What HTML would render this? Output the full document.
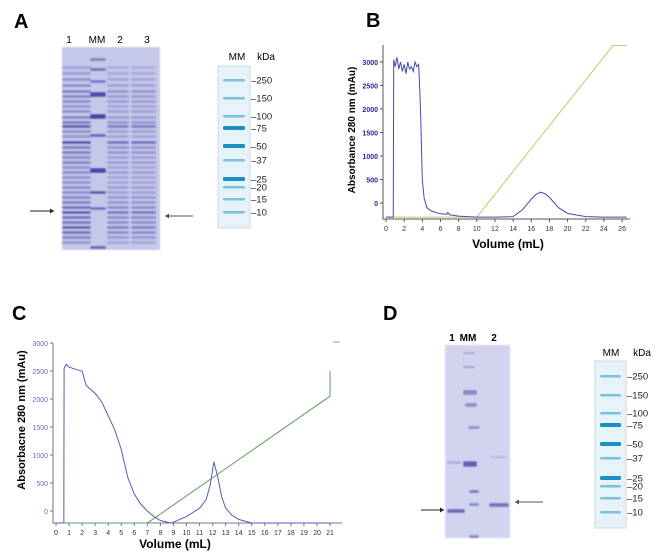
<!DOCTYPE html>
<html><head><meta charset="utf-8"><style>
body{margin:0;background:#fff;width:666px;height:557px;overflow:hidden;font-family:"Liberation Sans",sans-serif}
svg{position:absolute;left:0;top:0}
</style></head><body>
<svg id="fig" width="666" height="557" viewBox="0 0 666 557">
<defs><filter id="blur" x="-5%" y="-5%" width="110%" height="110%"><feGaussianBlur stdDeviation="0.7"/></filter></defs>
<g font-family="Liberation Sans, sans-serif">
<text x="14" y="28" font-size="20" font-weight="bold">A</text>
<text x="366" y="27" font-size="20" font-weight="bold">B</text>
<text x="12" y="320" font-size="20" font-weight="bold">C</text>
<text x="383" y="320" font-size="20" font-weight="bold">D</text>
</g>
<g id="gelA"></g>
<g id="gelD"></g>
<g id="mkA"></g>
<g id="mkD"></g>
<g id="chartB"></g>
<g id="chartC"></g>
</svg>
<script>
// ---- Chart B data ----
const bVol=[0,0.8,0.85,1.0,1.2,1.4,1.6,1.8,2.0,2.2,2.4,2.6,2.8,3.0,3.2,3.4,3.6,3.8,4.0,4.2,4.5,5,6,6.7,6.8,7,8,10,12,14,15,16,16.5,17,17.5,18,19,20,22,24,26.5];
const bAbs=[-300,-300,3050,2900,3100,2850,3000,2800,2950,2750,3000,2850,2900,2800,3000,2900,2950,2000,500,100,-100,-170,-230,-240,-200,-250,-280,-300,-300,-290,-150,80,180,230,200,120,-100,-220,-290,-300,-300];
const bGradVol=[0,10,25,26.5];
const bGradAbs=[-300,-300,3350,3350];
const bXTicks=[0,2,4,6,8,10,12,14,16,18,20,22,24,26];
const bYTicks=[0,500,1000,1500,2000,2500,3000];
// ---- Chart C data ----
const cVol=[0,0.6,0.62,0.8,1.0,1.5,2.0,2.3,2.5,3.0,3.5,4.0,4.5,5.0,5.3,5.5,6.0,6.5,7,7.5,8,8.8,9,10,11,11.5,11.8,12.1,12.4,12.7,13,13.5,14,15,21];
const cAbs=[-215,-215,2550,2620,2570,2530,2500,2250,2200,2100,1950,1700,1450,1100,800,600,300,120,0,-100,-170,-215,-200,-100,50,200,450,880,600,250,50,-80,-150,-215,-215];
const cGradVol=[0,7,21,21];
const cGradAbs=[-215,-215,2050,2500];
const cXTicks=[0,1,2,3,4,5,6,7,8,9,10,11,12,13,14,15,16,17,18,19,20,21];
const cYTicks=[0,500,1000,1500,2000,2500,3000];
// ---- Marker ladders ----
const kdaLabels=['250','150','100','75','50','37','25','20','15','10'];
const kdaStrong=[0,0,0,1,1,0,1,0,0,0];

const NS='http://www.w3.org/2000/svg';
function mk(p,tag,at){const e=document.createElementNS(NS,tag);for(const k in at)e.setAttribute(k,at[k]);p.appendChild(e);return e;}

function chart(g,o){
  const xs=v=>o.x0+(v-o.vmin)*o.px;
  const ys=a=>o.y0-a*o.py;
  const ax=mk(g,'path',{d:`M${o.x0-3},${o.top}V${o.base}H${o.right}`,stroke:o.axc,fill:'none','stroke-width':1});
  
  
  o.xt.forEach(t=>{
    const l=mk(g,'line',{x1:xs(t),x2:xs(t),y1:o.base,y2:o.base+3,stroke:o.axc});
    
    
    const tx=mk(g,'text',{x:xs(t),y:o.base+12,'font-size':o.fs,'text-anchor':'middle',fill:'#333'});tx.textContent=t;
    
    
  });
  o.yt.forEach(t=>{
    const l=mk(g,'line',{x1:o.x0-6,x2:o.x0-3,y1:ys(t),y2:ys(t),stroke:o.axc});
    
    
    const tx=mk(g,'text',{x:o.x0-8,y:ys(t)+3,'font-size':o.fs,'text-anchor':'end',fill:o.ytc,'font-weight':o.ytw});tx.textContent=t;
    
    
  });
  const gr=mk(g,'polyline',{points:o.gv.map((v,i)=>xs(v)+','+ys(o.ga[i])).join(' '),fill:'none',stroke:o.gc,'stroke-width':1});
  
  
  const tr=mk(g,'polyline',{points:o.v.map((v,i)=>xs(v)+','+ys(o.a[i])).join(' '),fill:'none',stroke:o.tc,'stroke-width':1});
  
  
  const xl=mk(g,'text',{x:o.xlx,y:o.xly,'font-size':12,'font-weight':'bold','text-anchor':'middle'});xl.textContent='Volume (mL)';
  
  
  const yl=mk(g,'text',{x:0,y:0,'font-size':o.yfs,'font-weight':'bold','text-anchor':'middle',transform:`translate(${o.ylx},${o.yly}) rotate(-90)`});yl.textContent=o.ytitle;
  
  
}
chart(document.getElementById('chartB'),{x0:386,vmin:0,px:9.08,y0:203,py:0.047,top:45,base:219,right:630,axc:'#555',fs:7,ytc:'#2a2a90',ytw:'bold',tc:'#4848b0',
  xt:bXTicks,yt:bYTicks,v:bVol,a:bAbs,gv:bGradVol,ga:bGradAbs,gc:'#c9c86a',xlx:508,xly:248,ylx:355,yly:130,yfs:10,ytitle:'Absorbance 280 nm (mAu)'});
chart(document.getElementById('chartC'),{x0:56,vmin:0,px:13.05,y0:511,py:0.056,top:343,base:523,right:342,axc:'#777',fs:7,ytc:'#6b6bc0',ytw:'normal',tc:'#5a5ac0',
  xt:cXTicks,yt:cYTicks,v:cVol,a:cAbs,gv:cGradVol,ga:cGradAbs,gc:'#5c9c5c',xlx:175,xly:548,ylx:25,yly:420,yfs:11,ytitle:'Absorbacne 280 nm (mAu)'});
(function(){const l=mk(document.getElementById('chartC'),'line',{x1:333,x2:340,y1:342,y2:342,stroke:'#bbb','stroke-width':1.5});

})();

// ---- marker ladders ----
function ladder(g,x,y,w,h,ys,lx,mmx,mmy,kx){
  const r=mk(g,'rect',{x:x,y:y,width:w,height:h,fill:'#e6f4fa',stroke:'#cfd8dc'});
  
  
  kdaLabels.forEach((k,i)=>{
    const b=mk(g,'rect',{x:x+5,y:ys[i]-(kdaStrong[i]?2:1),width:w-10,height:kdaStrong[i]?4:2.5,fill:kdaStrong[i]?'#1b8ec4':'#7cc0de',rx:1.5});
    
    
    const t=mk(g,'text',{x:lx,y:ys[i]+3.5,'font-size':9.5,fill:'#222'});t.textContent='\u2013'+k;
    
    
  });
  const m=mk(g,'text',{x:mmx,y:mmy,'font-size':10,'text-anchor':'middle'});m.textContent='MM';
  
  
  const kd=mk(g,'text',{x:kx,y:mmy,'font-size':10,'text-anchor':'middle'});kd.textContent='kDa';
  
  
}
ladder(document.getElementById('mkA'),218,66,32,162,[80,98,116,128,146,160,179,187,199,212],251,237,60,266);
ladder(document.getElementById('mkD'),595,361,31,167,[376,395,413,425,444,458,478,486,498,512],627,611,356,642);

// ---- gels ----
function gel(g,x,y,w,h,bg,bands,labels,arrows){
  const inner=mk(g,'g',{filter:'url(#blur)'});
  
  
  const r=mk(inner,'rect',{x:x,y:y,width:w,height:h,fill:bg});
  
  
  bands.forEach(b=>{
    const e=mk(inner,'rect',{x:b[0],y:b[1],width:b[2],height:b[3],fill:'#3d3fa6','fill-opacity':b[4],rx:2});
    
    
  });
  labels.forEach(l=>{const t=mk(g,'text',{x:l[0],y:l[1],'font-size':10,'text-anchor':'middle','font-weight':l[3]||'normal'});t.textContent=l[2];
    
    });
  arrows.forEach(a=>{
    const ln=mk(g,'line',{x1:a[0],y1:a[2],x2:a[1],y2:a[2],stroke:a[3],'stroke-width':1});
    
    
    const d=a[1]>a[0]?-4:4;
    const hd=mk(g,'path',{d:`M${a[1]},${a[2]}l${d},-2.5v5z`,fill:a[3]});
    
    
  });
}
const bA=[];
const lanesA=[[62,29],[107,22],[131,25]];
const rowsA=[[66,.25],[72,.3],[78,.35],[84,.4],[90,.5],[95,.45],[100,.4],[105,.35],[110,.4],[116,.45],[121,.5],[125,.75],[130,.4],[135,.35],[141,.85],[146,.5],[151,.5],[156,.4],[161,.45],[166,.35],[171,.4],[176,.35],[181,.35],[186,.4],[191,.4],[196,.45],[201,.5],[206,.6],[211,.75],[216,.6],[221,.55],[226,.7],[231,.6],[236,.45],[241,.35]];
lanesA.forEach((l,i)=>rowsA.forEach(r=>bA.push([l[0],r[0],l[1],3,r[1]*(i==0?1:0.7)])));
[[58,.5],[68,.6],[80,.55],[92,.9],[114,.95],[134,.7],[168,.95],[191,.8],[207,.6],[246,.7]].forEach(r=>bA.push([90,r[0],16,r[1]>.8?5:3,r[1]]));
gel(document.getElementById('gelA'),62,47,98,203,'#c6c8ea',bA,[[69,43,'1'],[97,43,'MM'],[120,43,'2'],[147,43,'3']],[[30,54,211,'#222'],[193,165,216,'#555']]);
const bD=[[447,461,14,3,.25],[463,390,14,5,.5],[465,403,12,4,.45],[468,426,12,3,.45],[463,461,14,6,.75],[469,490,10,3,.6],[469,503,10,3,.5],[469,535,10,3,.5],[447,509,18,4,.7],[489,503,20,4,.65],[490,456,16,2,.2],[463,352,12,2,.3],[463,366,12,2,.35]];
gel(document.getElementById('gelD'),445,345,65,193,'#d2d4ef',bD,[[452,341,'1','bold'],[468,341,'MM','bold'],[494,341,'2','bold']],[[421,444,510,'#222'],[543,515,502,'#555']]);
</script>
</body></html>
